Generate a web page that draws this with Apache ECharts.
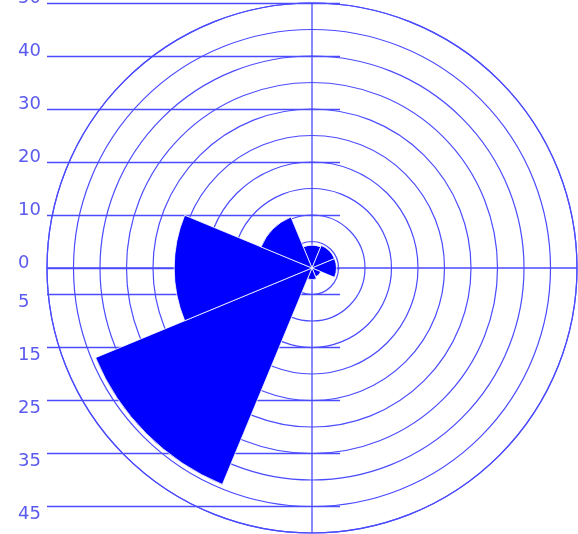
<!DOCTYPE html>
<html>
<head>
<meta charset="utf-8">
<style>
  html, body { margin: 0; padding: 0; background: #ffffff; }
  #chart { width: 578px; height: 534px; }
</style>
<script src="https://cdn.jsdelivr.net/npm/echarts@6/dist/echarts.min.js"></script>
</head>
<body>
<div id="chart"></div>
<script>
// Wind directions, clockwise from north
const directions = ['N', 'NE', 'E', 'SE', 'S', 'SW', 'W', 'NW'];
// Sector lengths per direction
const frequencies = [4.3, 4.6, 4.6, 1.8, 2.2, 44.2, 26, 10.4];
// Reference levels drawn as horizontal rules on the left (upper half positive, lower half negative)
const radialTicks = [50, 40, 30, 20, 10, 0, -5, -15, -25, -35, -45];
const radiusMax = 50;
const ringStep = 5;

const gridColor = '#4b4bff';
const labelColor = '#5a5aee';
const center = [312, 268];
const radiusPx = 265;

const chart = echarts.init(document.getElementById('chart'), null, { renderer: 'canvas' });

const upperTicks = radialTicks.filter(v => v >= 0);
const lowerTicks = radialTicks.filter(v => v < 0);

// Upper labels sit on their rule, lower labels hang below it
const labelAxis = (ticks, align, lineHeight) => ({
  type: 'value',
  gridIndex: 0,
  min: -radiusMax,
  max: radiusMax,
  interval: ringStep,
  position: 'left',
  axisLine: { show: false },
  axisTick: { show: false },
  splitLine: { show: false },
  axisLabel: {
    show: true,
    align: 'left',
    margin: 29,
    verticalAlign: align,
    lineHeight: lineHeight,
    color: labelColor,
    fontFamily: 'DejaVu Sans',
    fontSize: 18,
    formatter: v => (ticks.indexOf(v) >= 0 ? String(Math.abs(v)) : '')
  }
});

const option = {
  animation: false,
  backgroundColor: '#ffffff',
  grid: [{
    left: center[0] - radiusPx,
    top: center[1] - radiusPx,
    width: 293,
    height: radiusPx * 2,
    containLabel: false,
    outerBoundsMode: 'none'
  }],
  xAxis: [{ type: 'value', gridIndex: 0, min: 0, max: 1, show: false }],
  yAxis: [labelAxis(upperTicks, 'bottom', 10), labelAxis(lowerTicks, 'top', 16)],
  polar: [
    { center: center, radius: radiusPx },
    { center: center, radius: radiusPx }
  ],
  angleAxis: [
    {
      polarIndex: 0,
      type: 'category',
      data: directions,
      startAngle: 90 + 180 / directions.length,
      clockwise: true,
      boundaryGap: true,
      axisLine: { show: false },
      axisTick: { show: false },
      axisLabel: { show: false },
      splitLine: { show: false }
    },
    {
      polarIndex: 1,
      type: 'value',
      min: 0,
      max: 360,
      interval: 90,
      startAngle: 90,
      axisLine: { show: true, lineStyle: { color: gridColor, width: 1.2 } },
      axisTick: { show: false },
      axisLabel: { show: false },
      splitLine: { show: true, lineStyle: { color: gridColor, width: 1.3 } }
    }
  ],
  radiusAxis: [
    {
      polarIndex: 0,
      type: 'value',
      min: 0,
      max: radiusMax,
      interval: ringStep,
      axisLine: { show: false },
      axisTick: { show: false },
      axisLabel: { show: false },
      splitLine: { show: true, lineStyle: { color: gridColor, width: 1.2 } }
    },
    {
      polarIndex: 1,
      type: 'value',
      min: 0,
      max: radiusMax,
      show: false,
      axisLine: { show: false },
      axisTick: { show: false },
      axisLabel: { show: false },
      splitLine: { show: false }
    }
  ],
  series: [
    {
      name: 'levels',
      type: 'line',
      xAxisIndex: 0,
      yAxisIndex: 0,
      data: [],
      silent: true,
      markLine: {
        silent: true,
        symbol: ['none', 'none'],
        label: { show: false },
        lineStyle: { color: gridColor, type: 'solid', width: 1.4 },
        data: radialTicks.map(v => ({ yAxis: v }))
      }
    },
    {
      name: 'frequency',
      type: 'bar',
      coordinateSystem: 'polar',
      polarIndex: 0,
      data: frequencies,
      barCategoryGap: '0%',
      z: 10,
      itemStyle: { color: '#0000ff', borderColor: '#ffffff', borderWidth: 0.8 }
    }
  ]
};

chart.setOption(option);
</script>
</body>
</html>
